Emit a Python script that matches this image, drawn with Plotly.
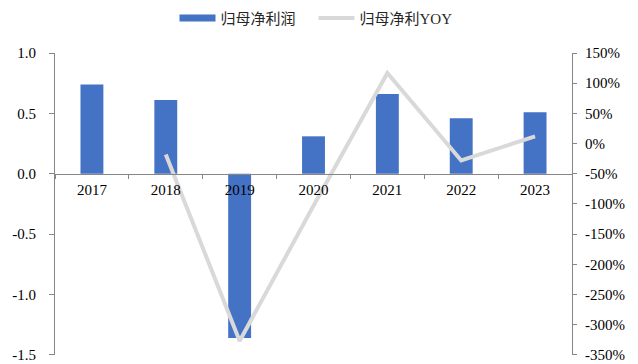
import plotly.graph_objects as go

years = ["2017", "2018", "2019", "2020", "2021", "2022", "2023"]
net_profit = [0.74, 0.61, -1.36, 0.31, 0.66, 0.46, 0.51]
profit_yoy = [None, -18, -327, -103, 117, -28, 12]

left_ticks = [1.0, 0.5, 0.0, -0.5, -1.0, -1.5]
right_ticks = [150, 100, 50, 0, -50, -100, -150, -200, -250, -300, -350]

serif = "Liberation Serif, Times New Roman, serif"
legend_font = "Liberation Serif, Noto Sans CJK SC, serif"
axis_color = "#868686"
bar_color = "#4472C4"
line_color = "#D9D9D9"

fig = go.Figure()
fig.add_trace(go.Bar(
    x=years, y=net_profit, name="归母净利润",
    marker=dict(color=bar_color, line=dict(width=0)),
    width=0.31, yaxis="y", showlegend=False, legendgroup="np",
))
# legend swatch for the bars: a wide flat bar-coloured stroke
fig.add_trace(go.Scatter(
    x=[None], y=[None], name="归母净利润", mode="lines",
    line=dict(color=bar_color, width=7), legendgroup="np",
))
fig.add_trace(go.Scatter(
    x=years, y=profit_yoy, name="归母净利YOY",
    mode="lines", line=dict(color=line_color, width=4),
    yaxis="y2", connectgaps=False,
))

tick_font = dict(family=serif, size=15, color="#000000")

fig.update_layout(
    width=638, height=364,
    margin=dict(l=55, r=66, t=53, b=9, autoexpand=False),
    paper_bgcolor="white", plot_bgcolor="white",
    font=dict(family=serif, size=15, color="#000000"),
    showlegend=True,
    legend=dict(
        orientation="h", x=0.5, xanchor="center",
        yref="container", y=0.95, yanchor="middle",
        font=dict(family=legend_font, size=15, color="#262626"),
        itemwidth=36, traceorder="normal", entrywidth=88,
    ),
    xaxis=dict(
        type="category", anchor="free", position=0.6, automargin=False,
        showline=True, linecolor=axis_color, linewidth=1,
        ticks="outside", tickson="boundaries", ticklen=4, tickcolor=axis_color,
        showgrid=False, zeroline=False,
        tickfont=tick_font, ticklabelstandoff=2,
    ),
    yaxis=dict(
        range=[-1.501, 1.0], tickvals=left_ticks, automargin=False,
        ticktext=[f"{v:.1f}" for v in left_ticks],
        showline=True, linecolor=axis_color, linewidth=1,
        ticks="outside", ticklen=5, tickcolor=axis_color,
        showgrid=False, zeroline=False,
        tickfont=tick_font, ticklabelstandoff=10,
    ),
    yaxis2=dict(
        range=[-350.2, 150], tickvals=right_ticks, automargin=False,
        ticktext=[f"{v}%" for v in right_ticks],
        overlaying="y", side="right",
        showline=True, linecolor=axis_color, linewidth=1,
        ticks="outside", ticklen=4, tickcolor=axis_color,
        showgrid=False, zeroline=False,
        tickfont=tick_font, ticklabelstandoff=5,
    ),
)

fig.write_html("out.html")
